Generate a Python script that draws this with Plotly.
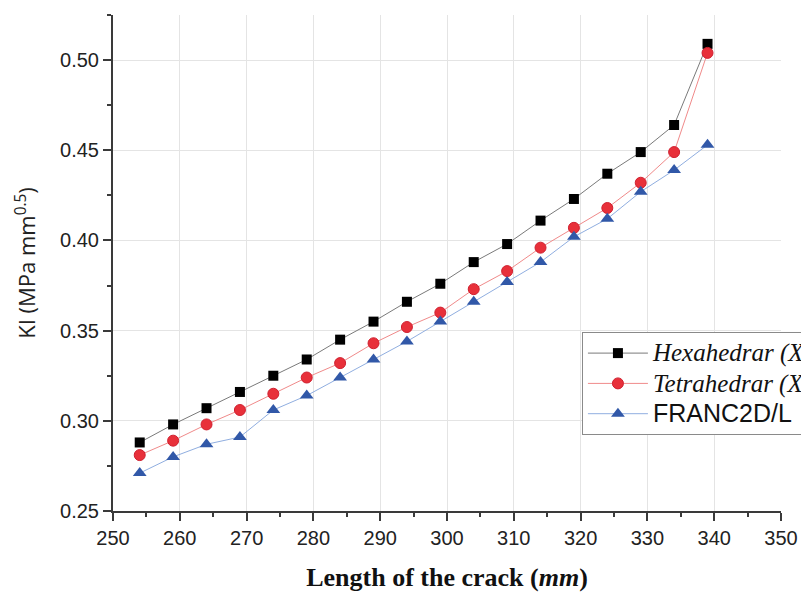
import plotly.graph_objects as go

crack_length = [254, 259, 264, 269, 274, 279, 284, 289, 294, 299, 304, 309, 314, 319, 324, 329, 334, 339]
hexa = [0.288, 0.298, 0.307, 0.316, 0.325, 0.334, 0.345, 0.355, 0.366, 0.376, 0.388, 0.398, 0.411, 0.423, 0.437, 0.449, 0.464, 0.509]
tetra = [0.281, 0.289, 0.298, 0.306, 0.315, 0.324, 0.332, 0.343, 0.352, 0.360, 0.373, 0.383, 0.396, 0.407, 0.418, 0.432, 0.449, 0.504]
franc = [0.271, 0.280, 0.287, 0.291, 0.306, 0.314, 0.324, 0.334, 0.344, 0.355, 0.366, 0.377, 0.388, 0.402, 0.412, 0.427, 0.439, 0.453]

names = [
    '<span style="font-family:Liberation Serif;font-size:25px"><i>Hexahedrar (X-FEM)</i></span>',
    '<span style="font-family:Liberation Serif;font-size:25px"><i>Tetrahedrar (X-FEM)</i></span>',
    '<span style="font-size:25px">FRANC2D/L</span>',
]

fig = go.Figure()
fig.add_trace(go.Scatter(x=crack_length, y=hexa, name=names[0], mode="lines+markers",
                         line=dict(color="#7a7a7a", width=1),
                         marker=dict(symbol="square", size=10, color="#000000")))
fig.add_trace(go.Scatter(x=crack_length, y=tetra, name=names[1], mode="lines+markers",
                         line=dict(color="#f08a8a", width=1),
                         marker=dict(symbol="circle", size=11, color="#e8303a",
                                     line=dict(color="#d02030", width=1))))
fig.add_trace(go.Scatter(x=crack_length, y=franc, name=names[2], mode="lines+markers",
                         line=dict(color="#90aee0", width=1),
                         marker=dict(symbol="triangle-up", size=12, color="#3158a8")))

axis_common = dict(
    showline=True, linecolor="#3a3a3a", linewidth=2,
    ticks="outside", ticklen=8, tickwidth=2, tickcolor="#3a3a3a",
    showgrid=True, gridcolor="#e4e4e4", gridwidth=1,
    zeroline=False,
    tickfont=dict(family="Liberation Sans, Arial", size=20, color="#222222"),
)

fig.update_xaxes(range=[250, 350], dtick=10, tick0=250,
                 minor=dict(ticks="outside", ticklen=4, tickwidth=2, tickcolor="#3a3a3a", dtick=5, showgrid=False),
                 title=dict(text="<b>Length of the crack (<i>mm</i>)</b>",
                            font=dict(family="Liberation Serif, Times New Roman", size=26, color="#111111"),
                            standoff=20),
                 tickformat="d",
                 **axis_common)
fig.update_yaxes(range=[0.25, 0.525], dtick=0.05, tick0=0.25, tickformat=".2f",
                 minor=dict(ticks="outside", ticklen=4, tickwidth=2, tickcolor="#3a3a3a", dtick=0.025, showgrid=False),
                 title=dict(text="KI (MPa mm<sup>0.5</sup>)",
                            font=dict(family="Open Sans, Liberation Sans", size=22, color="#222222"),
                            standoff=18),
                 **axis_common)

fig.update_layout(
    width=801, height=595,
    margin=dict(l=113, r=20, t=15, b=84, autoexpand=False),
    plot_bgcolor="white", paper_bgcolor="white",
    showlegend=True,
    legend=dict(x=0.702, y=0.361, xanchor="left", yanchor="top",
                bgcolor="white", bordercolor="#8a8a8a", borderwidth=1,
                font=dict(family="Liberation Sans, Arial", size=21, color="#111111"),
                itemwidth=60, tracegroupgap=0),
)

fig.write_html("out.html")
